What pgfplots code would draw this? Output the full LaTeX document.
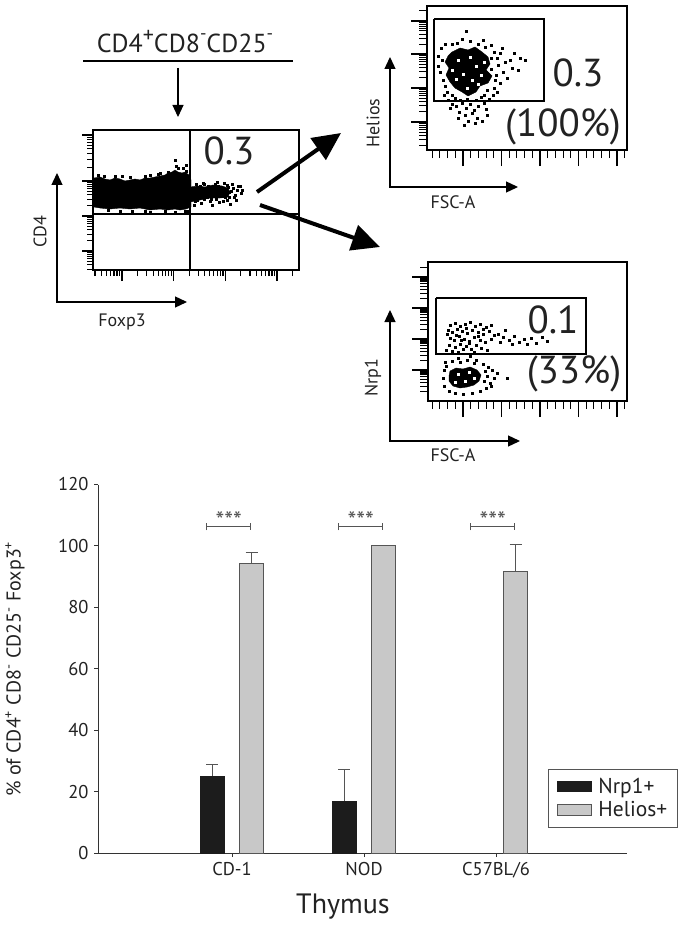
\documentclass[border=0pt]{standalone}
\usepackage{fontspec}
\setmainfont{PT Sans}
\usepackage{pgfplots}
\pgfplotsset{compat=1.18}
\usetikzlibrary{arrows.meta}

\definecolor{txt}{HTML}{222222}
\definecolor{dg}{HTML}{555555}
\definecolor{lg}{HTML}{C8C8C8}
\definecolor{bk}{HTML}{1C1C1C}

\pgfplotsset{flow/.style={
  scale only axis,
  tick align=outside, xtick pos=left, ytick pos=left,
  major tick length=13pt, minor tick length=7pt,
  every tick/.append style={black, line width=1.1pt},
  axis line style={line width=1.3pt},
  y dir=reverse,
}}

\begin{document}
\begin{tikzpicture}
\useasboundingbox (0,0) rectangle (685pt,-928pt);

% ---------------- Panel A : Foxp3 vs CD4 ----------------
\begin{axis}[flow, at={(93pt,-270pt)}, anchor=south west,
  width=206pt, height=140pt, xmin=93, xmax=299, ymin=130, ymax=270,
  xticklabels={}, yticklabels={},
  major tick length=11pt, minor tick length=6pt,
  xtick={122,173.7,225.3,277},
  minor xtick={95,101.4,106.4,110.5,114,117,119.6,137.6,146.7,153.1,158.1,162.2,165.7,168.7,171.3,189.2,198.3,204.8,209.8,213.9,217.4,220.4,223,240.9,250,256.4,261.4,265.5,269,272,274.6,292.6},
  ytick={135,181,216,251},
  minor ytick={137.1,139.5,142.1,145.2,148.8,153.3,159.1,167.2,182.6,184.4,186.4,188.8,191.5,194.9,199.3,205.5,217.6,219.4,221.4,223.8,226.5,229.9,234.3,240.5,252.6,254.4,256.4,258.8,261.5,264.9,269.3}]
\addplot[black, line width=1.2pt] coordinates {(190,130) (190,270)};
\addplot[black, line width=1.2pt] coordinates {(93,214) (299,214)};
\addplot[fill=black, draw=black] coordinates {(94,178) (100,177) (105,179) (110,180) (115,178) (120,179) (125,181) (130,180) (135,179) (140,180) (145,178) (150,178) (155,177) (160,176) (165,175) (168,173) (172,172) (175,170) (178,172) (182,173) (185,172) (189,175) (191,180) (191,207) (186,209) (180,210) (175,209) (168,210) (160,209) (150,210) (140,208) (130,209) (120,208) (110,209) (100,208) (94,207) (94,178)};
\addplot[fill=black, draw=black] coordinates {(190,187) (198,186) (205,187) (213,185) (222,186) (228,188) (230,192) (228,197) (220,198) (210,198) (200,200) (190,202) (190,187)};
\addplot[only marks, mark=square*, mark size=1pt, black] coordinates {
(175,160) (178,168) (168,172) (160,173) (150,175) (183,168) (186,171) (104,176) (115,176) (130,177) (145,176) (186,165) (176,166) (98,175) (122,176) (158,174)
(120,211) (150,212) (165,211) (185,211) (145,211) (175,212) (188,211) (132,211) (108,210)
(192,188) (195,190) (198,192) (200,186) (203,195) (205,189) (207,197) (210,191) (212,188) (214,194) (216,199) (218,186) (220,191) (222,196) (224,189) (226,193) (228,187) (229,197) (231,191) (233,188) (235,195) (237,190) (240,186) (236,200) (241,193) (197,200) (201,203) (194,205) (199,198) (210,201) (219,202) (227,200) (230,204) (215,184) (224,183) (232,184) (204,184) (196,184) (213,196) (207,193) (217,193) (221,187) (225,197) (204,199) (208,186) (229,192) (193,196) (195,201) (223,201) (213,190) (211,199) (234,197) (227,185) (242,190) (238,186) (212,205) (203,183) (217,182)};
\end{axis}

% ---------------- Panel B : FSC-A vs Helios ----------------
\begin{axis}[flow, at={(427pt,-150pt)}, anchor=south west,
  width=200pt, height=144pt, xmin=427, xmax=627, ymin=6, ymax=150,
  xticklabels={}, yticklabels={},
  major tick length=16pt, minor tick length=8pt,
  xtick={463,501.5,540,578.5,617},
  minor xtick={432.2,439.9,447.6,455.3,470.7,478.4,486.1,493.8,509.2,516.9,524.6,532.3,547.7,555.4,563.1,570.8,586.2,593.9,601.6,609.3,624.7},
  ytick={21,54,88,122},
  minor ytick={10.8,22.5,24.2,26.1,28.3,30.9,34.1,38.3,44.1,55.6,57.3,59.3,61.5,64.2,67.5,71.8,77.8,89.6,91.3,93.3,95.5,98.2,101.5,105.8,111.8,123.6,125.3,127.3,129.5,132.2,135.5,139.8,145.8}]
\addplot[black, line width=1.2pt] coordinates {(434,19) (544,19) (544,101) (434,101) (434,19)};
\addplot[fill=black, draw=black] coordinates {(452,52) (460,48) (468,50) (475,47) (482,52) (488,57) (490,64) (486,70) (492,76) (488,83) (480,86) (476,92) (468,96) (462,92) (455,88) (450,82) (446,75) (449,68) (445,62) (448,56) (452,52)};
\addplot[only marks, mark=square*, mark size=1.1pt, black] coordinates {
(462,39) (470,41) (478,44) (485,47) (494,52) (500,53) (514,53) (520,58) (525,60) (505,62) (498,65) (512,68) (518,70) (503,72) (496,75) (507,78) (500,83) (494,88) (497,92) (442,60) (438,66) (440,72) (443,80) (445,86) (447,92) (452,95) (455,98) (460,100) (448,100) (452,104) (456,106) (462,103) (466,108) (470,104) (474,110) (478,106) (484,103) (486,109) (459,112) (465,115) (472,113) (477,118) (468,121) (482,121) (489,99) (493,95) (441,48) (445,44) (452,44) (457,43) (483,40) (491,45) (497,58) (502,48) (510,60) (484,95) (491,69) (495,80) (438,56) (444,95) (467,99) (476,100) (481,97) (487,90) (450,108) (458,118) (475,123) (464,125) (487,115) (491,58) (466,31)};
\addplot[only marks, mark=square*, mark size=0.9pt, white] coordinates {(458,60) (470,57) (476,66) (463,74) (472,80) (481,75) (456,79) (467,88) (484,62) (452,70) (478,84)};
\end{axis}

% ---------------- Panel C : FSC-A vs Nrp1 ----------------
\begin{axis}[flow, at={(428pt,-401pt)}, anchor=south west,
  width=199pt, height=139pt, xmin=428, xmax=627, ymin=262, ymax=401,
  xticklabels={}, yticklabels={},
  major tick length=16pt, minor tick length=8pt,
  xtick={463,501.5,540,578.5,617},
  minor xtick={432.2,439.9,447.6,455.3,470.7,478.4,486.1,493.8,509.2,516.9,524.6,532.3,547.7,555.4,563.1,570.8,586.2,593.9,601.6,609.3,624.7},
  ytick={277,308,339,370},
  minor ytick={267.7,278.4,280,281.8,283.9,286.3,289.3,293.2,298.7,309.4,311,312.8,314.9,317.3,320.3,324.2,329.7,340.4,342,343.8,345.9,348.3,351.3,355.2,360.7,371.4,373,374.8,376.9,379.3,382.3,386.2,391.7}]
\addplot[black, line width=1.2pt] coordinates {(436,298) (586,298) (586,354) (436,354) (436,298)};
\addplot[fill=black, draw=black] coordinates {(450,371) (456,368) (463,369) (470,367) (477,370) (481,375) (479,381) (474,385) (467,387) (460,388) (453,386) (449,381) (449,376) (450,371)};
\addplot[only marks, mark=square*, mark size=1.1pt, black] coordinates {
(450,325) (455,323) (460,326) (465,324) (470,322) (475,326) (480,324) (486,327) (491,325) (448,330) (452,332) (457,329) (462,331) (467,333) (472,330) (478,332) (483,334) (489,331) (494,335) (450,338) (454,340) (459,336) (464,339) (469,341) (474,337) (480,340) (485,342) (491,339) (449,345) (455,347) (460,344) (466,346) (471,349) (476,345) (481,348) (487,350) (452,351) (458,352) (463,349) (469,343) (474,352) (478,336) (498,334) (503,337) (509,340) (514,336) (519,342) (524,339) (531,338) (536,343) (542,337) (547,341) (527,344) (512,344) (500,342) (505,330) (446,350) (447,334) (461,340) (456,335) (466,328) (483,329)
(445,362) (452,361) (460,362) (467,360) (474,363) (483,364) (488,367) (492,370) (487,376) (494,378) (490,383) (486,388) (480,391) (472,393) (463,394) (455,393) (449,391) (444,386) (443,378) (444,370) (497,373) (507,378) (485,371) (491,386) (476,360) (458,358) (470,356) (484,381) (446,366)};
\addplot[only marks, mark=square*, mark size=0.9pt, white] coordinates {(458,374) (469,372) (465,381) (474,378) (455,382)};
\end{axis}

% ---------------- Annotations of the flow panels ----------------
\begin{scope}[x=1pt,y=1pt,text=txt]
\node[font=\fontsize{26}{28}\selectfont, anchor=base, inner sep=0pt] at (185,-53) {CD4\raisebox{0.42em}{\fontsize{22}{22}\selectfont +}CD8\raisebox{0.5em}{\fontsize{18}{18}\selectfont -}CD25\raisebox{0.5em}{\fontsize{18}{18}\selectfont -}};
\draw[black, line width=1.1pt] (83,-61) -- (293,-61);
\draw[black, line width=1.1pt, -{Triangle[length=12pt,width=11pt]}] (178,-68) -- (178,-117);
% panel A axis arrows
\draw[black, line width=1.3pt, {Triangle[length=12pt,width=11pt]}-{Triangle[length=12pt,width=11pt]}] (57,-173) |- (187,-302);
\node[rotate=90, font=\fontsize{18}{20}\selectfont] at (40,-232) {CD4};
\node[font=\fontsize{18}{20}\selectfont] at (122,-322) {Foxp3};
\node[font=\fontsize{39}{40}\selectfont] at (229,-151) {0.3};
% big arrows
\draw[black, line width=4pt, -{Triangle[length=28pt,width=26pt]}] (257,-192) -- (341,-133);
\draw[black, line width=4pt, -{Triangle[length=28pt,width=26pt]}] (260,-205) -- (380,-247);
% panel B
\draw[black, line width=1.3pt, {Triangle[length=12pt,width=11pt]}-{Triangle[length=12pt,width=11pt]}] (390,-57) |- (518,-187);
\node[rotate=90, font=\fontsize{18}{20}\selectfont] at (373,-123) {Helios};
\node[font=\fontsize{18}{20}\selectfont] at (453,-202) {FSC-A};
\node[font=\fontsize{39}{40}\selectfont] at (578,-73) {0.3};
\node[font=\fontsize{39}{40}\selectfont] at (563,-127) {(100\%)};
% panel C
\draw[black, line width=1.3pt, {Triangle[length=12pt,width=11pt]}-{Triangle[length=12pt,width=11pt]}] (390,-310) |- (520,-441);
\node[rotate=90, font=\fontsize{18}{20}\selectfont] at (373,-378) {Nrp1};
\node[font=\fontsize{18}{20}\selectfont] at (453,-455) {FSC-A};
\node[font=\fontsize{39}{40}\selectfont] at (553,-320) {0.1};
\node[font=\fontsize{39}{40}\selectfont] at (574,-374) {(33\%)};
\end{scope}

% ---------------- Bar chart ----------------
\begin{axis}[at={(98pt,-853pt)}, anchor=south west, scale only axis,
  width=529pt, height=368.5pt,
  xmin=-0.015, xmax=3.992, ymin=0, ymax=120,
  axis x line=bottom, axis y line=left,
  axis line style={-, draw=black!80, line width=0.9pt},
  xtick={1,2,3}, xticklabels={CD-1,NOD,C57BL/6},
  ytick={0,20,40,60,80,100,120},
  tick align=outside, major tick length=4pt,
  tick style={black!80, line width=0.9pt},
  xtick pos=left, ytick pos=left,
  /pgf/number format/assume math mode=true,
  tick label style={font=\fontsize{18.5}{20}\selectfont, text=txt},
  yticklabel style={xshift=-2pt},
  xticklabel style={yshift=-2pt},
  legend style={at={(0.851,0.228)}, anchor=north west, draw=dg, line width=0.8pt,
    inner xsep=8pt, inner ysep=7pt,
    font=\fontsize{21.5}{23}\selectfont, text=txt,
    /tikz/every odd column/.append style={column sep=5pt},
    row sep=2pt, legend cell align=left},
  clip=false]
\addplot[ybar, bar width=24pt, bar shift=0pt, fill=bk, draw=bk,
  legend image code/.code={\draw[fill=bk,draw=bk] (0pt,-5pt) rectangle (34pt,5pt);},
  error bars/.cd, y dir=plus, y explicit,
  error bar style={dg, line width=1pt},
  error mark options={rotate=90, dg, mark size=6pt, line width=1pt}]
  coordinates {(0.852,25.0) +- (0,3.7) (1.852,16.9) +- (0,10.4)};
\addplot[ybar, bar width=24pt, bar shift=0pt, fill=lg, draw=dg, line width=1pt,
  legend image code/.code={\draw[fill=lg,draw=dg,line width=0.8pt] (0pt,-5.5pt) rectangle (34pt,5.5pt);},
  error bars/.cd, y dir=plus, y explicit,
  error bar style={dg, line width=1pt},
  error mark options={rotate=90, dg, mark size=6pt, line width=1pt}]
  coordinates {(1.148,94.4) +- (0,3.4) (2.148,100) +- (0,0) (3.148,91.6) +- (0,9.0)};
\legend{Nrp1+,Helios+}
\draw[dg, line width=1pt, |-|] (axis cs:0.805,106.2) -- (axis cs:1.147,106.2);
\draw[dg, line width=1pt, |-|] (axis cs:1.805,106.2) -- (axis cs:2.147,106.2);
\draw[dg, line width=1pt, |-|] (axis cs:2.805,106.2) -- (axis cs:3.147,106.2);
\node[dg, font=\fontsize{25}{26}\selectfont] at (axis cs:0.975,108.4) {***};
\node[dg, font=\fontsize{25}{26}\selectfont] at (axis cs:1.975,108.4) {***};
\node[dg, font=\fontsize{25}{26}\selectfont] at (axis cs:2.975,108.4) {***};
\end{axis}

\begin{scope}[x=1pt,y=1pt,text=txt]
\node[font=\fontsize{28}{30}\selectfont] at (343,-907) {Thymus};
\node[rotate=90, font=\fontsize{20}{22}\selectfont] at (15,-669) {\% of CD4\textsuperscript{+} CD8\textsuperscript{-} CD25\textsuperscript{-} Foxp3\textsuperscript{+}};
\end{scope}
\end{tikzpicture}
\end{document}
